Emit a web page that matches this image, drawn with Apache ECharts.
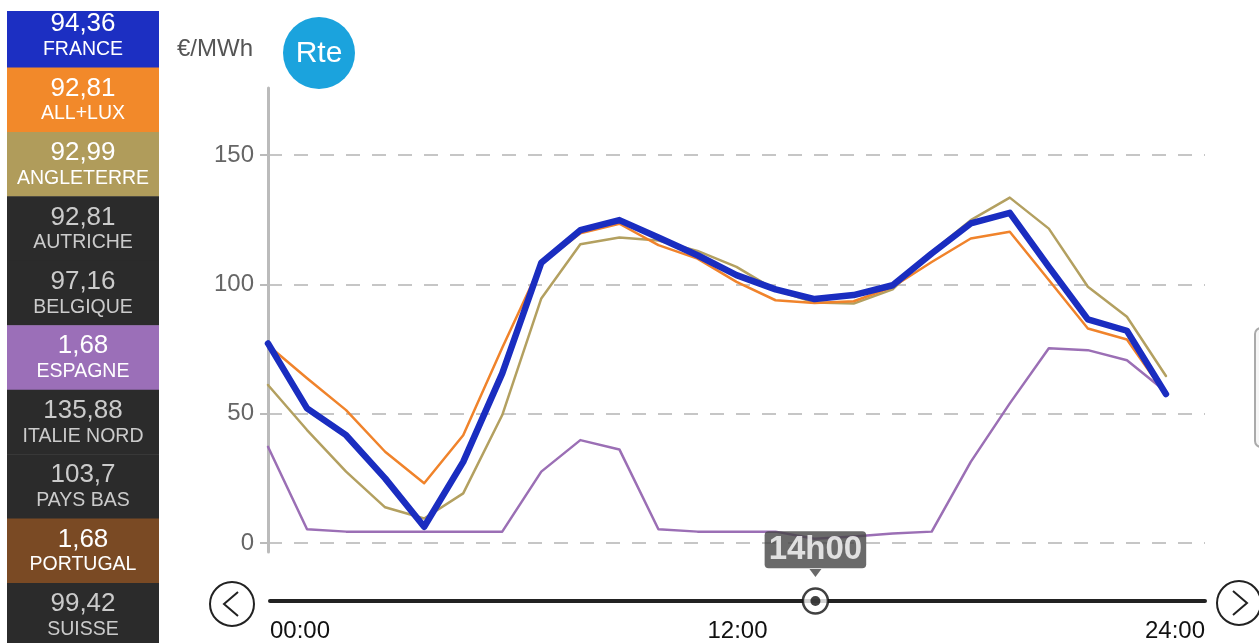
<!DOCTYPE html>
<html><head><meta charset="utf-8">
<script src="https://cdn.jsdelivr.net/npm/echarts@6/dist/echarts.min.js"></script>
<style>html,body{margin:0;padding:0;background:#fff}#c{width:1259px;height:643px}</style>
</head><body><div id="c"></div>
<script>
// ---- data ----
const hours = [0,1,2,3,4,5,6,7,8,9,10,11,12,13,14,15,16,17,18,19,20,21,22,23];
const france     = [77.2, 52.1, 41.7, 25.0, 6.3, 31.4, 65.6, 108.4, 121.0, 124.9, 118.2, 111.3, 103.6, 98.1, 94.36, 95.9, 99.7, 112.0, 123.6, 127.7, 106.8, 86.5, 82.1, 57.6];
const allLux     = [76.5, 63.7, 51.4, 35.3, 23.1, 41.7, 75.5, 108.0, 119.8, 123.5, 115.2, 110.0, 101.0, 93.9, 92.81, 93.5, 99.0, 108.7, 117.8, 120.4, 101.7, 83.0, 78.7, 57.2];
const angleterre = [61.1, 43.7, 27.6, 13.8, 9.5, 19.2, 49.5, 94.6, 115.6, 118.2, 117.0, 113.0, 106.8, 97.8, 92.99, 92.6, 98.1, 112.6, 124.9, 133.6, 121.6, 99.1, 87.5, 64.6];
const espagne    = [37.2, 5.3, 4.4, 4.4, 4.4, 4.4, 4.4, 27.6, 39.8, 36.2, 5.3, 4.4, 4.4, 4.4, 1.68, 2.5, 3.7, 4.4, 31.4, 54.0, 75.3, 74.6, 70.7, 58.5];
const yTicks = [0, 50, 100, 150];
const sliderTicks = [0, 12, 24];
const currentHour = 14;
const legendNames  = ['FRANCE','ALL+LUX','ANGLETERRE','AUTRICHE','BELGIQUE','ESPAGNE','ITALIE NORD','PAYS BAS','PORTUGAL','SUISSE'];
const legendValues = [94.36, 92.81, 92.99, 92.81, 97.16, 1.68, 135.88, 103.7, 1.68, 99.42];
const legendColors = ['#1c2fc2','#f2892a','#b09c5b','#2b2b2b','#2b2b2b','#9b6fb8','#2b2b2b','#2b2b2b','#7a4a24','#2b2b2b'];
const unitLabel = '€/MWh';

// ---- chart ----
const FONT = '"Liberation Sans", Arial, sans-serif';
const chart = echarts.init(document.getElementById('c'), null, {renderer: 'canvas'});
const pair = arr => arr.map((v, i) => [hours[i], v]);

const graphics = [];
const pitch = 64.45, top0 = 3;
legendNames.forEach((name, i) => {
  const top = top0 + i * pitch;
  const y0 = Math.max(top, 11);
  const dark = legendColors[i] === '#2b2b2b';
  graphics.push({type: 'rect', shape: {x: 7, y: y0, width: 152, height: top + pitch - y0 + 0.5}, style: {fill: legendColors[i]}, z: 1});
  graphics.push({type: 'text', x: 83, y: top + 21, z: 2, style: {text: String(legendValues[i]).replace('.', ','), fill: dark ? '#cbcbcb' : '#ffffff', font: '26px ' + FONT, align: 'center', verticalAlign: 'middle', textAlign: 'center', textVerticalAlign: 'middle'}});
  graphics.push({type: 'text', x: 83, y: top + 46.5, z: 2, style: {text: name, fill: dark ? '#cbcbcb' : '#ffffff', font: '19.5px ' + FONT, align: 'center', verticalAlign: 'middle', textAlign: 'center', textVerticalAlign: 'middle'}});
});
// logo
graphics.push({type: 'circle', shape: {cx: 319, cy: 53, r: 36}, style: {fill: '#1ba3dd'}, z: 1});
graphics.push({type: 'text', x: 319, y: 54, z: 2, style: {text: 'Rte', fill: '#fff', font: '30px ' + FONT, align: 'center', verticalAlign: 'middle', textAlign: 'center', textVerticalAlign: 'middle'}});
// slider buttons
graphics.push({type: 'circle', shape: {cx: 232, cy: 604, r: 22}, style: {fill: '#fff', stroke: '#222', lineWidth: 2}});
graphics.push({type: 'polyline', shape: {points: [[238, 592], [224, 604], [238, 616]]}, style: {stroke: '#222', lineWidth: 2, fill: null}});
graphics.push({type: 'circle', shape: {cx: 1239, cy: 603, r: 22}, style: {fill: '#fff', stroke: '#222', lineWidth: 2}});
graphics.push({type: 'polyline', shape: {points: [[1233, 591], [1247, 603], [1233, 615]]}, style: {stroke: '#222', lineWidth: 2, fill: null}});
// right edge tab
graphics.push({type: 'rect', shape: {x: 1255, y: 328, width: 20, height: 119, r: 6}, style: {fill: '#f6f6f6', stroke: '#aaa', lineWidth: 2}});

const lineSeries = (name, data, color, width, z) => ({
  name, type: 'line', xAxisIndex: 0, yAxisIndex: 0, data: pair(data),
  symbol: 'none', smooth: false, z,
  lineStyle: {color, width, join: 'round', cap: 'round'}, itemStyle: {color}
});

chart.setOption({
  animation: false,
  backgroundColor: '#fff',
  textStyle: {fontFamily: FONT},
  title: {text: unitLabel, left: 172, top: 32, textStyle: {fontSize: 24, fontWeight: 'normal', color: '#555', fontFamily: FONT}},
  grid: [
    {left: 268, right: 54, top: 88, height: 455},
    {left: 270, right: 54, top: 600, height: 1},
    {left: 268, right: 54, top: 88, height: 464}
  ],
  xAxis: [
    {gridIndex: 0, type: 'value', min: 0, max: 24, show: false},
    {gridIndex: 1, type: 'value', min: 0, max: 24, interval: 12,
     axisLine: {show: true, lineStyle: {color: '#222', width: 4}},
     axisTick: {show: false}, splitLine: {show: false},
     axisLabel: {customValues: sliderTicks, fontSize: 24, color: '#111', margin: 18, fontFamily: FONT,
       alignMinLabel: 'left', alignMaxLabel: 'right',
       formatter: v => String(v).padStart(2, '0') + ':00'}},
    {gridIndex: 2, type: 'value', min: 0, max: 1, show: false}
  ],
  yAxis: [
    {gridIndex: 0, type: 'value', min: 0, max: 176, interval: 50,
     axisLine: {show: false},
     axisTick: {show: true, length: 8, customValues: yTicks, lineStyle: {color: '#bbb', width: 2}},
     axisLabel: {customValues: yTicks, fontSize: 24, color: '#666', margin: 14, fontFamily: FONT},
     splitLine: {show: true, lineStyle: {color: ['#c6c6c6', '#c6c6c6', '#c6c6c6', '#c6c6c6', 'rgba(0,0,0,0)'], type: [14, 12], width: 2}}},
    {gridIndex: 1, type: 'value', min: 0, max: 1, show: false},
    {gridIndex: 2, type: 'value', min: 0, max: 1,
     axisLine: {show: true, lineStyle: {color: '#bbb', width: 3}},
     axisTick: {show: false}, axisLabel: {show: false}, splitLine: {show: false}}
  ],
  series: [
    lineSeries('ESPAGNE', espagne, '#9b6fb5', 2.5, 2),
    lineSeries('ANGLETERRE', angleterre, '#b3a060', 2.5, 3),
    lineSeries('ALL+LUX', allLux, '#f0832b', 2.5, 4),
    lineSeries('FRANCE', france, '#1a2dc0', 6.5, 5),
    {type: 'scatter', xAxisIndex: 1, yAxisIndex: 1, clip: false, z: 6, silent: true,
     data: [[currentHour, 0]], symbol: 'triangle', symbolRotate: 180, symbolSize: [12, 8], symbolOffset: [0, -28],
     itemStyle: {color: '#454545'}},
    {type: 'scatter', xAxisIndex: 1, yAxisIndex: 1, clip: false, z: 7, silent: true,
     data: [[currentHour, 0]], symbol: 'circle', symbolSize: 25,
     itemStyle: {color: '#fff', borderColor: '#111', borderWidth: 2.5},
     label: {show: true, position: 'top', distance: 19, formatter: () => currentHour + 'h00',
       color: '#fff', fontSize: 33, fontWeight: 'bold', fontFamily: FONT, lineHeight: 33,
       backgroundColor: '#454545', padding: [2, 4, 2, 4], borderRadius: 4}},
    {type: 'scatter', xAxisIndex: 1, yAxisIndex: 1, clip: false, z: 8, silent: true,
     data: [[currentHour, 0]], symbol: 'circle', symbolSize: 10, itemStyle: {color: '#111'}}
  ],
  graphic: graphics
});
</script>
</body></html>
